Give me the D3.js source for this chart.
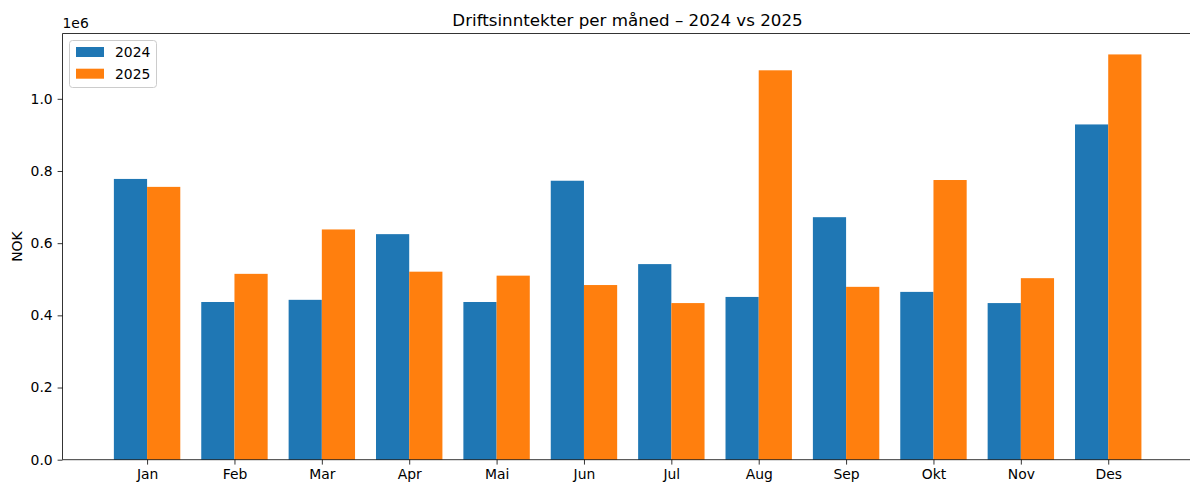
<!DOCTYPE html>
<html><head><meta charset="utf-8">
<script src="https://cdn.jsdelivr.net/npm/d3@7"></script>
<style>body{margin:0;background:#fff;} svg{display:block;font-family:"DejaVu Sans",sans-serif;}</style>
</head><body>
<svg id="c" width="1190" height="486"></svg>
<script>
const months = ["Jan","Feb","Mar","Apr","Mai","Jun","Jul","Aug","Sep","Okt","Nov","Des"];
const values2024 = [778000,437000,443000,625000,437000,773000,542000,451000,672000,465000,434000,929000];
const values2025 = [756000,515000,638000,521000,510000,484000,434000,1079000,479000,775000,503000,1123000];
const yTicks = [0,200000,400000,600000,800000,1000000];
const seriesNames = ["2024","2025"];
const colors = ["#1f77b4","#ff7f0e"];

const svg = d3.select("#c");
const L=62.5, R=1192.8, T=33.5, B=459.7;
const w = 0.38;
const x = d3.scaleLinear().domain([-0.968, 11.968]).range([L,R]);
const y = d3.scaleLinear().domain([0, 1181000]).range([B,T]);

const series = [values2024, values2025];
series.forEach((vals,si)=>{
  svg.append("g").selectAll("rect").data(vals).join("rect")
    .attr("x",(d,i)=>x(si===0 ? i-w : i))
    .attr("width",(d,i)=>x(i+w)-x(i))
    .attr("y",d=>y(d))
    .attr("height",d=>B-y(d))
    .attr("fill",colors[si]);
});

// spines
const sp = svg.append("g").attr("stroke","#000").attr("stroke-width",0.8).attr("fill","none");
sp.append("line").attr("x1",L).attr("x2",R).attr("y1",T).attr("y2",T);
sp.append("line").attr("x1",L).attr("x2",R).attr("y1",B).attr("y2",B);
sp.append("line").attr("x1",L).attr("x2",L).attr("y1",T).attr("y2",B);

// x axis
const xa = svg.append("g").attr("transform",`translate(0,${B})`)
  .call(d3.axisBottom(x).tickValues(d3.range(12)).tickFormat(i=>months[i]).tickSize(4.9).tickPadding(4.9));
xa.select(".domain").remove();
xa.selectAll("line").attr("stroke","#000").attr("stroke-width",0.8);
xa.selectAll("text").attr("font-size","13.9px").attr("fill","#000").attr("font-family","DejaVu Sans");

// y axis
const ya = svg.append("g").attr("transform",`translate(${L},0)`)
  .call(d3.axisLeft(y).tickValues(yTicks).tickFormat(d=>(d/1e6).toFixed(1)).tickSize(4.9).tickPadding(4.9));
ya.select(".domain").remove();
ya.selectAll("line").attr("stroke","#000").attr("stroke-width",0.8);
ya.selectAll("text").attr("font-size","13.9px").attr("fill","#000").attr("font-family","DejaVu Sans");

// offset text
svg.append("text").attr("x",L).attr("y",T-6).attr("font-size","13.9px").text("1e6");
// title
svg.append("text").attr("x",627.5).attr("y",T-8).attr("text-anchor","middle").attr("font-size","16.7px").text("Driftsinntekter per måned – 2024 vs 2025");
// y label
svg.append("text").attr("transform",`translate(22,${(T+B)/2}) rotate(-90)`).attr("text-anchor","middle").attr("font-size","13.9px").text("NOK");

// legend
const lg = svg.append("g");
lg.append("rect").attr("x",69.5).attr("y",40.5).attr("width",87).attr("height",47).attr("rx",3)
  .attr("fill","#fff").attr("fill-opacity",0.8).attr("stroke","#cccccc").attr("stroke-width",1);
seriesNames.forEach((n,i)=>{
  lg.append("rect").attr("x",76).attr("y",47+i*21.7).attr("width",28).attr("height",10).attr("fill",colors[i]);
  lg.append("text").attr("x",115).attr("y",57+i*21.7).attr("font-size","13.9px").text(n);
});
</script>
</body></html>
